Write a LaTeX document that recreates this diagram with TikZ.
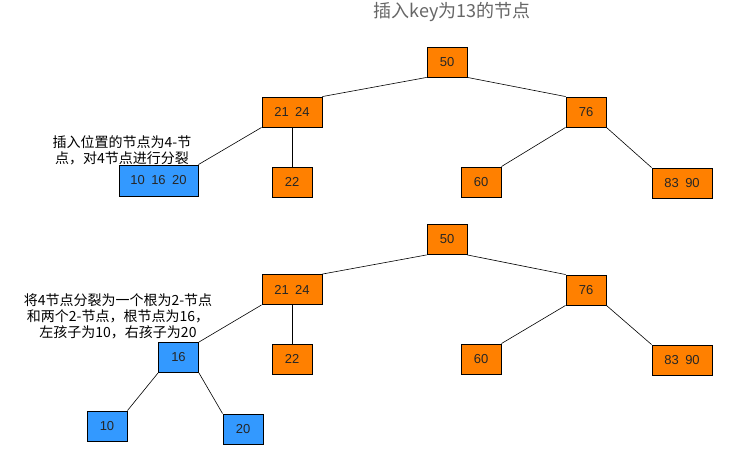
\documentclass[tikz,border=0pt]{standalone}
\usepackage{fontspec}
\setmainfont{Liberation Sans}
\newfontfamily\cjk{Noto Sans CJK SC}
\usepackage{tikz}
\usetikzlibrary{positioning}
\definecolor{keyorange}{HTML}{FF8000}
\definecolor{keyblue}{HTML}{3399FF}

\begin{document}
\begin{tikzpicture}
[x=1pt,y=-1pt,
key/.style={draw=black,line width=0.9pt,minimum width=40pt,minimum height=30pt,
inner sep=0pt,font=\fontsize{13}{15}\selectfont,text=black!85},
old/.style={key,fill=keyorange},
new/.style={key,fill=keyblue},
note/.style={font=\cjk\fontsize{14}{16}\selectfont,align=center,inner sep=0pt},
link/.style={line width=0.6pt}]
\useasboundingbox (0,0) rectangle (752,454);
\node[font=\cjk\fontsize{18}{20}\selectfont,text=black!60] (title) at (452,12) {插入key为13的节点};

% before the split
\node[old] (a50) at (447,62) {50};
\node[old,minimum width=60pt] (a2124) at (292,112) {21\hspace{0.5em}24};
\node[old] (a76) at (586,112) {76};
\node[new,minimum width=79pt,minimum height=31pt] (a101620) at (158.5,180.5) {10\hspace{0.5em}16\hspace{0.5em}20};
\node[old] (a22) at (292,182) {22};
\node[old] (a60) at (481,182) {60};
\node[old,minimum width=60pt] (a8390) at (682,183) {83\hspace{0.5em}90};
\node[note] (anote) at (122,150) {插入位置的节点为4-节\\点，对4节点进行分裂};
\draw[link] (a50.south west) -- (a2124.north east);
\draw[link] (a50.south east) -- (a76.north west);
\draw[link] (a2124.south west) -- (a101620.north east);
\draw[link] (a2124.south) -- (a22.north);
\draw[link] (a76.south west) -- (a60.north east);
\draw[link] (a76.south east) -- (a8390.north west);

% after the split
\node[old] (b50) at (447,239.5) {50};
\node[old,minimum width=60pt] (b2124) at (292,289.5) {21\hspace{0.5em}24};
\node[old] (b76) at (586,290) {76};
\node[new] (b16) at (178.5,357.5) {16};
\node[old] (b22) at (292,359) {22};
\node[old] (b60) at (481,359) {60};
\node[old,minimum width=60pt] (b8390) at (682,360) {83\hspace{0.5em}90};
\node[new] (b10) at (107,426) {10};
\node[new] (b20) at (243,429) {20};
\node[note] (bnote) at (118,316) {将4节点分裂为一个根为2-节点\\和两个2-节点，根节点为16，\\左孩子为10，右孩子为20};
\draw[link] (b50.south west) -- (b2124.north east);
\draw[link] (b50.south east) -- (b76.north west);
\draw[link] (b2124.south west) -- (b16.north east);
\draw[link] (b2124.south) -- (b22.north);
\draw[link] (b76.south west) -- (b60.north east);
\draw[link] (b76.south east) -- (b8390.north west);
\draw[link] (b16.south west) -- (b10.north east);
\draw[link] (b16.south east) -- (b20.north west);
\end{tikzpicture}
\end{document}
